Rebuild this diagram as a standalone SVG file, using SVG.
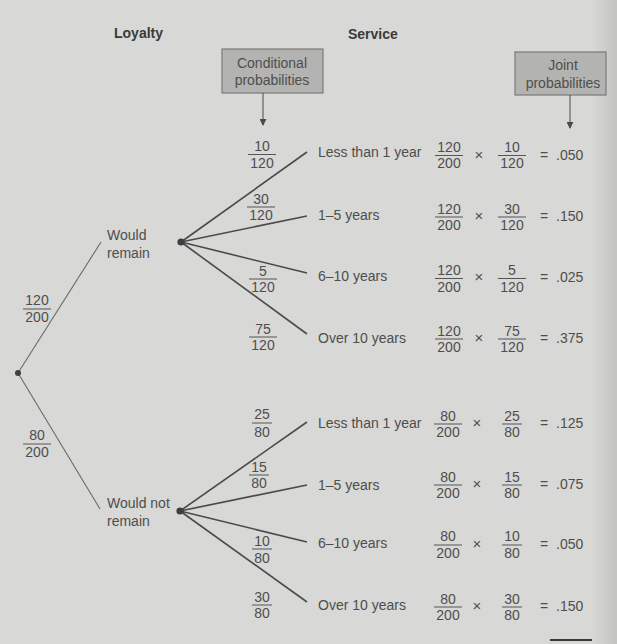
<svg xmlns="http://www.w3.org/2000/svg" width="617" height="644" viewBox="0 0 617 644">
<defs>
<linearGradient id="edge" x1="0" y1="0" x2="1" y2="0">
<stop offset="0" stop-color="#000" stop-opacity="0"/>
<stop offset="1" stop-color="#000" stop-opacity="0.1"/>
</linearGradient>
<marker id="ah" viewBox="0 0 8 8" refX="7" refY="4" markerWidth="7" markerHeight="7" markerUnits="userSpaceOnUse" orient="auto">
<path d="M0,0 L8,4 L0,8 z" fill="#4a4a4a"/>
</marker>
<style>
text{font-family:"Liberation Sans",Arial,Helvetica,sans-serif;font-size:14px;fill:#4e4e4e}
.h{font-weight:bold;fill:#3a3a3a}
.m{text-anchor:middle}
.x{font-size:15px}
.bar{stroke:#555;stroke-width:1}
.thin{stroke:#6a6a6a;stroke-width:1.1;fill:none}
.br{stroke:#4a4a4a;stroke-width:1.6;fill:none}
.box{fill:#b3b3b1;stroke:#7a7a78;stroke-width:1.2}
.dot{fill:#3e3e3e}
</style>
</defs>
<rect x="0" y="0" width="617" height="644" fill="#d8d8d6"/>
<rect x="592" y="0" width="25" height="644" fill="url(#edge)"/>

<text class="h" x="114" y="38">Loyalty</text>
<text class="h" x="348" y="39">Service</text>

<g id="cond-box">
<rect class="box" x="222" y="49" width="101" height="44"/>
<text class="m" x="272" y="68">Conditional</text>
<text class="m" x="272" y="85">probabilities</text>
</g>
<g id="joint-box">
<rect class="box" x="515" y="52" width="91" height="43"/>
<text class="m" x="563" y="70">Joint</text>
<text class="m" x="563" y="88">probabilities</text>
</g>

<g id="connectors">
<line x1="263" y1="93" x2="263" y2="125" stroke="#4a4a4a" stroke-width="1" marker-end="url(#ah)"/>
<line x1="570" y1="95" x2="570" y2="128" stroke="#4a4a4a" stroke-width="1" marker-end="url(#ah)"/>
<line class="thin" x1="18" y1="373" x2="101" y2="242"/>
<line class="thin" x1="18" y1="373" x2="100" y2="509"/>
<line class="br" x1="181" y1="242" x2="307" y2="152"/>
<line class="br" x1="181" y1="242" x2="307" y2="216"/>
<line class="br" x1="181" y1="242" x2="307" y2="273"/>
<line class="br" x1="181" y1="242" x2="307" y2="334"/>
<line class="br" x1="180" y1="511" x2="307" y2="422"/>
<line class="br" x1="180" y1="511" x2="307" y2="485"/>
<line class="br" x1="180" y1="511" x2="307" y2="542"/>
<line class="br" x1="180" y1="511" x2="307" y2="602"/>
</g>

<g id="root">
<circle class="dot" cx="18" cy="373" r="3"/>
</g>
<g id="frac-root">
<text class="m" x="37" y="305">120</text><line class="bar" x1="23" y1="309" x2="51" y2="309"/><text class="m" x="37" y="322">200</text>
<text class="m" x="37" y="440">80</text><line class="bar" x1="23" y1="444" x2="51" y2="444"/><text class="m" x="37" y="457">200</text>
</g>

<g id="would-remain">
<circle class="dot" cx="181" cy="242" r="3.6"/>
<text x="107" y="240">Would</text>
<text x="107" y="258">remain</text>
</g>
<g id="would-not-remain">
<circle class="dot" cx="180" cy="511" r="3.6"/>
<text x="107" y="508">Would not</text>
<text x="107" y="526">remain</text>
</g>

<g id="cond-fracs">
<text class="m" x="262" y="151">10</text><line class="bar" x1="248" y1="154.5" x2="276" y2="154.5"/><text class="m" x="262" y="168">120</text>
<text class="m" x="261" y="204">30</text><line class="bar" x1="247" y1="207" x2="275" y2="207"/><text class="m" x="261" y="220">120</text>
<text class="m" x="263" y="276">5</text><line class="bar" x1="249" y1="279" x2="277" y2="279"/><text class="m" x="263" y="292">120</text>
<text class="m" x="263" y="334">75</text><line class="bar" x1="249" y1="337" x2="277" y2="337"/><text class="m" x="263" y="350">120</text>
<text class="m" x="262" y="419">25</text><line class="bar" x1="252" y1="423" x2="272" y2="423"/><text class="m" x="262" y="437">80</text>
<text class="m" x="259" y="472">15</text><line class="bar" x1="249" y1="475" x2="269" y2="475"/><text class="m" x="259" y="488">80</text>
<text class="m" x="262" y="546">10</text><line class="bar" x1="252" y1="549" x2="272" y2="549"/><text class="m" x="262" y="563">80</text>
<text class="m" x="262" y="602">30</text><line class="bar" x1="252" y1="605" x2="272" y2="605"/><text class="m" x="262" y="618">80</text>
</g>

<g id="row-r1">
<text x="318" y="157">Less than 1 year</text>
<text class="m" x="449" y="152">120</text><line class="bar" x1="435" y1="155.5" x2="463" y2="155.5"/><text class="m" x="449" y="168">200</text>
<text class="m x" x="479" y="160">×</text>
<text class="m" x="512" y="152">10</text><line class="bar" x1="498" y1="155.5" x2="526" y2="155.5"/><text class="m" x="512" y="168">120</text>
<text x="540" y="160">=</text><text x="556" y="160">.050</text>
</g>
<g id="row-r2">
<text x="318" y="220">1–5 years</text>
<text class="m" x="449" y="214">120</text><line class="bar" x1="435" y1="217" x2="463" y2="217"/><text class="m" x="449" y="230">200</text>
<text class="m x" x="479" y="221">×</text>
<text class="m" x="512" y="214">30</text><line class="bar" x1="498" y1="217" x2="526" y2="217"/><text class="m" x="512" y="230">120</text>
<text x="540" y="221">=</text><text x="556" y="221">.150</text>
</g>
<g id="row-r3">
<text x="318" y="281">6–10 years</text>
<text class="m" x="449" y="275">120</text><line class="bar" x1="435" y1="278.5" x2="463" y2="278.5"/><text class="m" x="449" y="292">200</text>
<text class="m x" x="479" y="282">×</text>
<text class="m" x="512" y="275">5</text><line class="bar" x1="498" y1="278.5" x2="526" y2="278.5"/><text class="m" x="512" y="292">120</text>
<text x="540" y="282">=</text><text x="556" y="282">.025</text>
</g>
<g id="row-r4">
<text x="318" y="343">Over 10 years</text>
<text class="m" x="449" y="336">120</text><line class="bar" x1="435" y1="339" x2="463" y2="339"/><text class="m" x="449" y="352">200</text>
<text class="m x" x="479" y="343">×</text>
<text class="m" x="512" y="336">75</text><line class="bar" x1="498" y1="339" x2="526" y2="339"/><text class="m" x="512" y="352">120</text>
<text x="540" y="343">=</text><text x="556" y="343">.375</text>
</g>

<g id="row-n1">
<text x="318" y="428">Less than 1 year</text>
<text class="m" x="448" y="421">80</text><line class="bar" x1="434" y1="424" x2="462" y2="424"/><text class="m" x="448" y="437">200</text>
<text class="m x" x="477" y="428">×</text>
<text class="m" x="512" y="421">25</text><line class="bar" x1="502" y1="424" x2="522" y2="424"/><text class="m" x="512" y="437">80</text>
<text x="540" y="428">=</text><text x="556" y="428">.125</text>
</g>
<g id="row-n2">
<text x="318" y="490">1–5 years</text>
<text class="m" x="448" y="482">80</text><line class="bar" x1="434" y1="485" x2="462" y2="485"/><text class="m" x="448" y="498">200</text>
<text class="m x" x="477" y="489">×</text>
<text class="m" x="512" y="482">15</text><line class="bar" x1="502" y1="485" x2="522" y2="485"/><text class="m" x="512" y="498">80</text>
<text x="540" y="489">=</text><text x="556" y="489">.075</text>
</g>
<g id="row-n3">
<text x="318" y="548">6–10 years</text>
<text class="m" x="448" y="541">80</text><line class="bar" x1="434" y1="545" x2="462" y2="545"/><text class="m" x="448" y="558">200</text>
<text class="m x" x="477" y="549">×</text>
<text class="m" x="512" y="541">10</text><line class="bar" x1="502" y1="545" x2="522" y2="545"/><text class="m" x="512" y="558">80</text>
<text x="540" y="549">=</text><text x="556" y="549">.050</text>
</g>
<g id="row-n4">
<text x="318" y="610">Over 10 years</text>
<text class="m" x="448" y="604">80</text><line class="bar" x1="434" y1="607" x2="462" y2="607"/><text class="m" x="448" y="620">200</text>
<text class="m x" x="477" y="611">×</text>
<text class="m" x="512" y="604">30</text><line class="bar" x1="502" y1="607" x2="522" y2="607"/><text class="m" x="512" y="620">80</text>
<text x="540" y="611">=</text><text x="556" y="611">.150</text>
</g>
<line x1="550" y1="640" x2="592" y2="640" stroke="#3a3a3a" stroke-width="1.8"/>
</svg>
